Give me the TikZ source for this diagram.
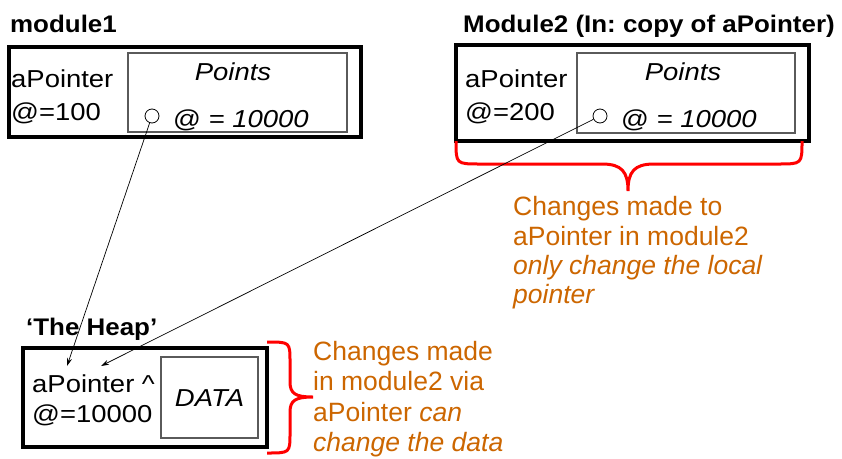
\documentclass[tikz,border=0pt]{standalone}
\usepackage{fontspec}
\setmainfont{Liberation Sans}
\newfontfamily\boxfont{Liberation Sans}[FakeStretch=1.12]
\newfontfamily\headfont{Liberation Sans}[FakeStretch=1.08]
\frenchspacing
\usetikzlibrary{arrows.meta}
\definecolor{notecol}{RGB}{204,102,0}
\definecolor{bracecol}{RGB}{255,0,0}
\definecolor{innercol}{RGB}{90,90,90}
\tikzset{
  outerbox/.style={draw=black, line width=4pt, inner sep=0pt},
  innerbox/.style={draw=innercol, line width=1.3pt, inner sep=0pt},
  title/.style={anchor=base west, inner sep=0pt, font=\headfont\fontsize{24}{28}\selectfont\bfseries},
  label/.style={anchor=base west, inner sep=0pt, font=\boxfont\fontsize{24.5}{28}\selectfont},
  ital/.style={inner sep=0pt, font=\boxfont\fontsize{24.5}{28}\selectfont\itshape},
  note/.style={anchor=base west, inner sep=0pt, text=notecol, font=\fontsize{26.5}{30}\selectfont},
  hole/.style={circle, draw=black, line width=0.8pt, minimum size=14pt, inner sep=0pt},
  ptr/.style={draw=black, line width=0.7pt, -{Stealth[length=8pt,width=5pt]}},
  brace/.style={draw=bracecol, line width=3pt}
}
\begin{document}
\begin{tikzpicture}[x=1pt,y=-1pt]
\useasboundingbox (0,0) rectangle (842,458);

% module1
\node[title] (t1) at (10,32) {module1};
\node[outerbox, minimum width=352pt, minimum height=90pt] (m1) at (185,92) {};
\node[innerbox, minimum width=219pt, minimum height=79pt] (p1) at (237.5,92.5) {};
\node[label] (a1) at (11,87) {aPointer};
\node[label] (v1) at (11,120) {@=100};
\node[ital, anchor=base] (pt1) at (233,80) {Points};
\node[hole] (c1) at (152,116) {};
\node[label] (q1) at (173,127) {@ \textit{= 10000}};

% module2
\node[title] (t2) at (463,32) {Module2 (In: copy of aPointer)};
\node[outerbox, minimum width=353pt, minimum height=96pt] (m2) at (632.5,93) {};
\node[innerbox, minimum width=218pt, minimum height=80pt] (p2) at (686,93) {};
\node[label] (a2) at (465,87) {aPointer};
\node[label] (v2) at (465,120) {@=200};
\node[ital, anchor=base] (pt2) at (683,80) {Points};
\node[hole] (c2) at (600,116) {};
\node[label] (q2) at (621,127) {@ \textit{= 10000}};

% brace under module2
\path[brace] (456,141) .. controls (456,164) and (456,164) .. (480,164)
  -- (602,164) .. controls (622,164) and (628,172) .. (628,191)
  .. controls (628,172) and (634,164) .. (654,164)
  -- (778,164) .. controls (802,164) and (802,164) .. (802,141);

\node[note] (n1a) at (513,215) {Changes made to};
\node[note] (n1b) at (513,245) {aPointer in module2};
\node[note] (n1c) at (513,274) {\itshape only change the local};
\node[note] (n1d) at (513,303) {\itshape pointer};

% the heap
\node[title] (th) at (26,335) {‘The Heap’};
\node[outerbox, minimum width=244pt, minimum height=99pt] (hp) at (145,397.5) {};
\node[innerbox, minimum width=97pt, minimum height=81pt] (db) at (209.5,397.5) {};
\node[label] (ah) at (32,392) {aPointer \^{}};
\node[label] (vh) at (32,422) {@=10000};
\node[ital, anchor=base] (dt) at (209.5,406) {DATA};
\coordinate (h1) at (67,366);
\coordinate (h2) at (101,366);

% brace beside the heap
\path[brace] (267,342) .. controls (290,342) and (290,342) .. (290,362)
  -- (290,382) .. controls (290,394) and (296,397) .. (313,397)
  .. controls (296,397) and (290,400) .. (290,412)
  -- (290,433) .. controls (290,453) and (290,453) .. (267,453);

\node[note] (n2a) at (313,360) {Changes made};
\node[note] (n2b) at (313,390) {in module2 via};
\node[note] (n2c) at (313,421) {aPointer \textit{can}};
\node[note] (n2d) at (313,451) {\itshape change the data};

% pointers into the heap
\draw[ptr] (c1) -- (h1);
\draw[ptr] (c2) -- (h2);
\end{tikzpicture}
\end{document}
